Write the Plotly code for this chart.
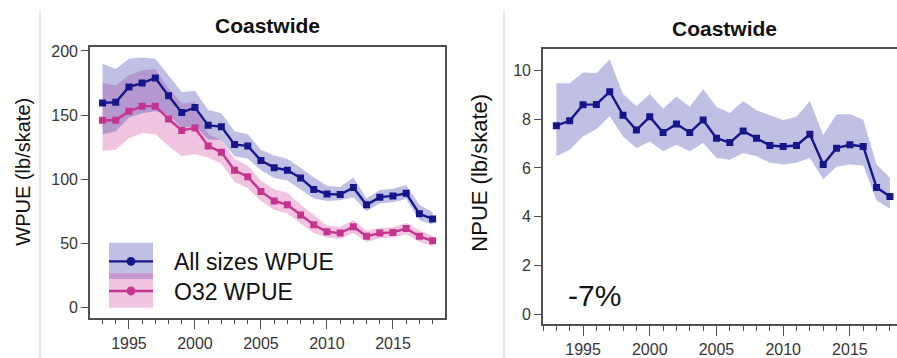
import plotly.graph_objects as go

W, H = 897, 358

# ---- data ---------------------------------------------------------------
years = list(range(1993, 2019))

# Weight per unit effort (lb/skate), all sizes
wpue_all = [159.5, 160, 172, 175, 179, 165, 152, 156, 142, 141, 127, 126, 114.5,
            109, 107, 101, 92, 88.5, 88, 93.5, 80, 86, 87, 89, 73, 69]
wpue_all_hi = [190, 186, 194, 195, 194, 181, 168, 169, 154, 151.5, 137.5, 135, 123,
               118.5, 116, 109, 101.5, 95, 94, 101.5, 85, 91.5, 92.5, 95.5, 80, 74.5]
wpue_all_lo = [135, 137.5, 148, 151.5, 153, 150, 140, 141.5, 131, 130.5, 118, 116, 107,
               101, 99, 92, 85, 83, 83.5, 86, 75, 81, 82, 84.5, 68, 64.5]

# Weight per unit effort (lb/skate), over 32 inches
wpue_o32 = [146, 146, 153, 157, 157, 147, 138, 140, 126, 121, 107, 102, 90.5,
            83, 80, 72, 64.5, 59, 58, 63, 55.5, 58, 58.5, 61.5, 55.5, 52]
wpue_o32_hi = [175, 173, 181, 185, 186, 171, 159, 160.5, 135, 130.5, 116, 110.5, 99,
               92, 89.5, 80, 72, 64, 63, 68, 60, 62, 62.5, 66, 60, 56]
wpue_o32_lo = [122, 123, 132, 136, 135, 126, 118, 119.5, 117, 112, 98, 93, 83,
               76, 73.5, 65.5, 58, 54.5, 53.5, 58, 51, 54, 54.5, 57, 51, 48]

# Number per unit effort
npue = [7.73, 7.93, 8.59, 8.6, 9.12, 8.16, 7.55, 8.09, 7.45, 7.8, 7.45, 7.96, 7.22,
        7.04, 7.51, 7.22, 6.92, 6.88, 6.92, 7.38, 6.14, 6.81, 6.95, 6.88, 5.2, 4.83]
npue_hi = [9.46, 9.46, 9.9, 9.87, 10.44, 9.03, 8.52, 9.03, 8.43, 8.92, 8.5, 9.23, 8.5,
           8.25, 8.74, 8.36, 8.16, 7.96, 8.09, 8.74, 7.35, 8.2, 8.2, 7.98, 6.14, 5.6]
npue_lo = [6.48, 6.75, 7.29, 7.58, 8.12, 7.29, 6.81, 7.08, 6.68, 6.95, 6.68, 7.02, 6.41,
           6.34, 6.61, 6.48, 6.21, 6.14, 6.21, 6.41, 5.54, 6.05, 6.14, 6.1, 4.67, 4.33]

series_names = ["All sizes WPUE", "O32 WPUE"]
npue_change = "-7%"
panel_title = "Coastwide"

# ---- styling ------------------------------------------------------------
FONT = "Liberation Sans, Arial, sans-serif"
BLUE = "#16168a"
PINK = "#c4358f"
BLUE_BAND = "rgba(60,60,170,0.32)"
PINK_BAND = "rgba(210,60,160,0.30)"
AXIS = "#505050"
TICKTXT = "#363636"


def px(x):
    return x / W


def py(y):
    return 1 - y / H


fig = go.Figure()


def add_band(hi, lo, color, xa, ya):
    fig.add_trace(go.Scatter(
        x=years + years[::-1], y=hi + lo[::-1], fill="toself", fillcolor=color,
        mode="lines", line=dict(width=0), hoverinfo="skip", showlegend=False,
        xaxis=xa, yaxis=ya))


def add_line(vals, color, xa, ya, name):
    fig.add_trace(go.Scatter(
        x=years, y=vals, mode="lines+markers", name=name,
        line=dict(color=color, width=2.4),
        marker=dict(symbol="square", size=7, color=color),
        showlegend=False, xaxis=xa, yaxis=ya))


# left panel: WPUE (pink band underneath, blue band over it)
add_band(wpue_o32_hi, wpue_o32_lo, PINK_BAND, "x", "y")
add_band(wpue_all_hi, wpue_all_lo, BLUE_BAND, "x", "y")
add_line(wpue_all, BLUE, "x", "y", series_names[0])
add_line(wpue_o32, PINK, "x", "y", series_names[1])

# right panel: NPUE
add_band(npue_hi, npue_lo, BLUE_BAND, "x2", "y2")
add_line(npue, BLUE, "x2", "y2", "NPUE")

tickfont = dict(family=FONT, size=16, color=TICKTXT)
xcommon = dict(
    tickmode="linear", tick0=1995, dtick=5, ticks="outside", ticklen=10,
    tickwidth=1.3, tickcolor=AXIS, showline=True, linecolor=AXIS, linewidth=1.6,
    showgrid=False, zeroline=False, tickfont=tickfont,
    minor=dict(dtick=1, ticks="outside", ticklen=5, tickwidth=1.3, tickcolor=AXIS,
               showgrid=False),
)
ycommon = dict(
    ticks="outside", ticklen=7, tickwidth=1.3, tickcolor=AXIS, showline=True,
    linecolor=AXIS, linewidth=1.6, showgrid=False, zeroline=False, tickfont=tickfont,
)

fig.update_layout(
    width=W, height=H, margin=dict(l=0, r=0, t=0, b=0),
    paper_bgcolor="white", plot_bgcolor="white", showlegend=False,
    font=dict(family=FONT),
    xaxis=dict(domain=[px(90), px(445)], range=[1992.05, 2018.94], anchor="y",
               mirror=True, **xcommon),
    yaxis=dict(domain=[py(317), py(43)], range=[-7.9, 202.8], anchor="x",
               tickvals=[0, 50, 100, 150, 200], mirror=True, **ycommon),
    xaxis2=dict(domain=[px(543), 1.0], range=[1992.0, 2018.53], anchor="y2",
                mirror=True, **xcommon),
    yaxis2=dict(domain=[py(324), py(45)], range=[-0.4, 10.85], anchor="x2",
                tickvals=[0, 2, 4, 6, 8, 10], mirror=False, **ycommon),
)

# faint vertical separators between the slide elements
for sx in (40, 504):
    fig.add_shape(type="line", xref="paper", yref="paper", x0=px(sx), x1=px(sx),
                  y0=py(5), y1=py(358), line=dict(color="#d6d6d6", width=1.2))

annotations = []

# panel titles
for cx, cy in ((267, 21), (724, 24)):
    annotations.append(dict(
        text=f"<b>{panel_title}</b>", x=px(cx), y=py(cy), xref="paper", yref="paper",
        xanchor="center", yanchor="middle", showarrow=False,
        font=dict(family=FONT, size=21, color="#111111")))

# axis titles
annotations.append(dict(
    text="WPUE (lb/skate)", x=px(23), y=py(169), xref="paper", yref="paper",
    textangle=-90, xanchor="center", yanchor="middle", showarrow=False,
    font=dict(family=FONT, size=20, color="#111111")))
annotations.append(dict(
    text="NPUE (lb/skate)", x=px(480), y=py(170), xref="paper", yref="paper",
    textangle=-90, xanchor="center", yanchor="middle", showarrow=False,
    font=dict(family=FONT, size=22, color="#111111")))

# percentage change label
annotations.append(dict(
    text=npue_change, x=px(566), y=py(295), xref="paper", yref="paper",
    xanchor="left", yanchor="middle", showarrow=False,
    font=dict(family=FONT, size=30, color="#151515")))

# legend inside the left panel: band swatch, line with dot, label
legend_rows = [
    (series_names[0], BLUE, BLUE_BAND, 241, 278, 260),
    (series_names[1], PINK, PINK_BAND, 272, 307, 290),
]
for name, lc, bc, top, bot, ly in legend_rows:
    fig.add_shape(type="rect", xref="paper", yref="paper",
                  x0=px(109), x1=px(153), y0=py(bot), y1=py(top),
                  fillcolor=bc, line=dict(width=0), layer="above")
for name, lc, bc, top, bot, ly in legend_rows:
    fig.add_shape(type="line", xref="paper", yref="paper",
                  x0=px(109), x1=px(153), y0=py(ly), y1=py(ly),
                  line=dict(color=lc, width=2.4), layer="above")
    fig.add_shape(type="circle", xref="paper", yref="paper",
                  x0=px(126.5), x1=px(135.5), y0=py(ly + 4.5), y1=py(ly - 4.5),
                  fillcolor=lc, line=dict(color=lc, width=0), layer="above")
    annotations.append(dict(
        text=name, x=px(172), y=py(ly + 1), xref="paper", yref="paper",
        xanchor="left", yanchor="middle", showarrow=False,
        font=dict(family=FONT, size=23, color="#111111")))

fig.update_layout(annotations=annotations)

fig.write_html("out.html")
